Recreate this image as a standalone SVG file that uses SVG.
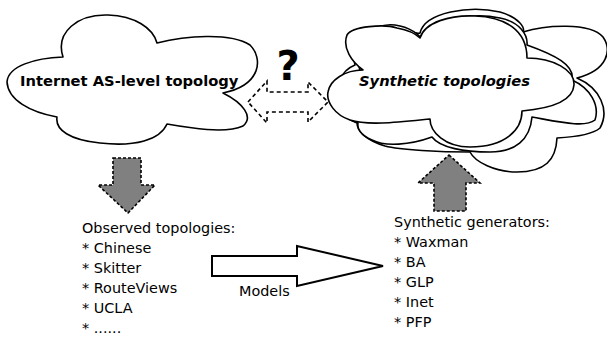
<svg xmlns="http://www.w3.org/2000/svg" width="607" height="337" viewBox="0 0 607 337">
<style>
.cloud{fill:#fff;stroke:#000;stroke-width:1.6;stroke-linejoin:round}
.bold{font-family:"DejaVu Sans",sans-serif;font-weight:bold;font-size:14.7px;fill:#000}
.txt{font-family:"DejaVu Sans",sans-serif;font-size:14.4px;fill:#000}
.dash{fill:#fff;stroke:#000;stroke-width:1.6;stroke-dasharray:4,3}
.gray{fill:#808080;stroke:#000;stroke-width:1.6;stroke-dasharray:3,2}
.hollow{fill:#fff;stroke:#000;stroke-width:2}
</style>
<rect width="607" height="337" fill="#fff"/>
<g id="internet-cloud">
<path class="cloud" d="M63,57 C55,32 78,14 108,15 C135,16 153,28 157,43 C185,36 230,32 250,45 C263,58 262,85 223,93 C243,103 254,117 243,126 C225,134 190,128 167,124 C160,140 135,147 100,143 C70,140 55,130 57,117 C30,112 8,100 7,82 C8,66 35,58 63,57 Z"/>
<text class="bold" x="20" y="86">Internet AS-level topology</text>
</g>
<g id="synthetic-cloud">
<path class="cloud" d="M355,65 C350,40 375,25 400,30 C410,32 418,34 420,33 C425,12 470,5 500,12 C520,18 525,28 523,32 C545,25 590,22 603,37 C612,50 608,70 577,78 C600,88 610,110 600,128 C592,135 575,137 557,138 C556,160 545,172 517,172 C495,172 475,162 470,152 C440,152 400,150 385,146 C365,140 357,130 357,123 C340,118 335,95 340,80 C343,72 350,67 355,65 Z"/>
<path class="cloud" d="M360,70 C350,45 370,22 395,25 C410,27 420,35 422,40 C430,20 470,12 500,18 C520,22 528,35 527,45 C555,55 575,65 572,80 C590,88 600,105 595,120 C585,128 560,122 532,117 C530,140 515,152 490,152 C465,152 440,148 432,137 C410,145 385,147 372,140 C360,135 357,128 358,123 C335,115 332,80 360,70 Z"/>
<path class="cloud" d="M363,70 C352,62 342,48 347,35 C352,26 385,24 397,28 C408,30 416,34 420,38 C425,22 450,15 475,16 C505,17 527,30 527,58 C553,58 575,70 574,85 C573,100 555,108 522,111 C522,130 505,147 470,147 C445,147 430,132 430,119 C400,122 368,126 350,120 C335,115 326,102 328,92 C330,80 345,70 363,70 Z"/>
<text class="bold" x="359" y="86" font-style="italic">Synthetic topologies</text>
</g>
<g id="question">
<text class="bold" x="288" y="80" text-anchor="middle" style="font-size:40px">?</text>
</g>
<g id="connectors">
<path class="dash" d="M248,102 L267,81 L267,92 L308,92 L308,82 L328,102 L308,122 L308,112 L267,112 L267,123 Z"/>
<path class="gray" d="M113,158 L141,158 L141,185 L155,185 L128,213 L98,185 L113,185 Z"/>
<path class="gray" d="M449,155 L480,183 L466,183 L466,211 L434,211 L434,183 L418,183 Z"/>
<path class="hollow" d="M212,256 L297,256 L297,246 L383,266 L297,286 L297,276 L212,276 Z"/>
<text class="txt" x="239" y="296">Models</text>
</g>
<g id="observed">
<text class="txt" x="82" y="233">Observed topologies:</text>
<text class="txt" x="82" y="253">* Chinese</text>
<text class="txt" x="82" y="273">* Skitter</text>
<text class="txt" x="82" y="293">* RouteViews</text>
<text class="txt" x="82" y="313">* UCLA</text>
<text class="txt" x="82" y="333">* ......</text>
</g>
<g id="generators">
<text class="txt" x="394" y="227">Synthetic generators:</text>
<text class="txt" x="394" y="247">* Waxman</text>
<text class="txt" x="394" y="267">* BA</text>
<text class="txt" x="394" y="287">* GLP</text>
<text class="txt" x="394" y="307">* Inet</text>
<text class="txt" x="394" y="327">* PFP</text>
</g>
</svg>
